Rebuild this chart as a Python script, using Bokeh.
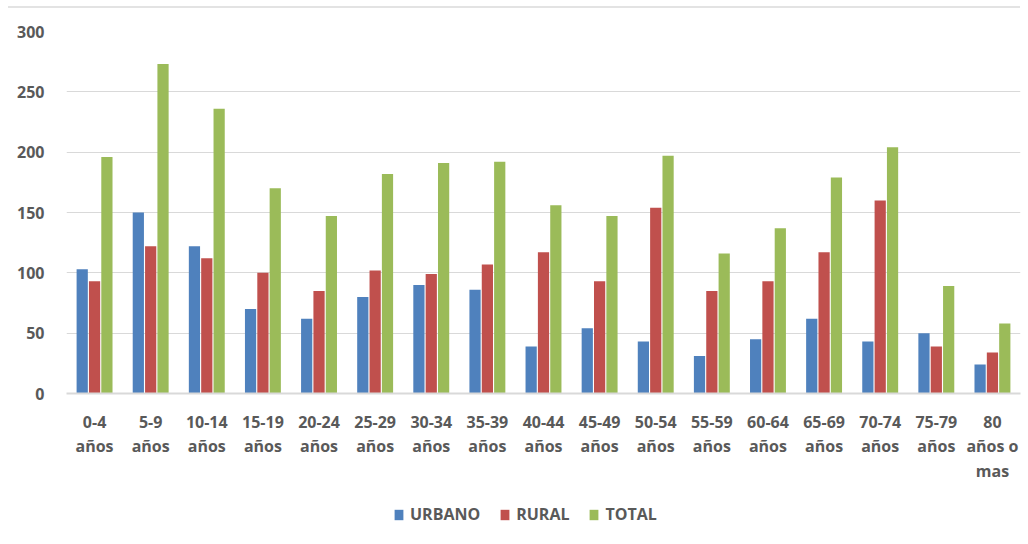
from bokeh.plotting import figure
from bokeh.models import (FactorRange, Range1d, Legend, LegendItem, Div,
                          ColumnDataSource, SingleIntervalTicker)
from bokeh.layouts import column
from bokeh.transform import dodge
from bokeh.embed import file_html
from bokeh.resources import INLINE

# ---- data ----
groups = ["0-4\naños", "5-9\naños", "10-14\naños", "15-19\naños", "20-24\naños",
          "25-29\naños", "30-34\naños", "35-39\naños", "40-44\naños", "45-49\naños",
          "50-54\naños", "55-59\naños", "60-64\naños", "65-69\naños", "70-74\naños",
          "75-79\naños", "80\naños o\nmas"]
urbano = [103, 150, 122, 70, 62, 80, 90, 86, 39, 54, 43, 31, 45, 62, 43, 50, 24]
rural = [93, 122, 112, 100, 85, 102, 99, 107, 117, 93, 154, 85, 93, 117, 160, 39, 34]
total = [196, 273, 236, 170, 147, 182, 191, 192, 156, 147, 197, 116, 137, 179, 204, 89, 58]
series_names = ["URBANO", "RURAL", "TOTAL"]
colors = ["#4F81BD", "#C0504D", "#9BBB59"]

src = ColumnDataSource(dict(g=groups, u=urbano, r=rural, t=total))

FONT = "Open Sans"
FSIZE = "16px"
TXT = "#595959"

p = figure(x_range=FactorRange(*groups, range_padding=0), y_range=Range1d(0, 300),
           width=1028, height=482, output_backend="svg", toolbar_location=None,
           min_border_left=66, min_border_right=8, min_border_top=23, min_border_bottom=97)
p.outline_line_color = None

r1 = p.vbar(x=dodge("g", -0.22, range=p.x_range), top="u", width=0.2, source=src,
            fill_color=colors[0], line_color=None)
r2 = p.vbar(x=dodge("g", 0.0, range=p.x_range), top="r", width=0.2, source=src,
            fill_color=colors[1], line_color=None)
r3 = p.vbar(x=dodge("g", 0.22, range=p.x_range), top="t", width=0.2, source=src,
            fill_color=colors[2], line_color=None)

# y axis
p.yaxis.ticker = SingleIntervalTicker(interval=50)
p.yaxis.axis_line_color = None
p.yaxis.major_tick_line_color = None
p.yaxis.minor_tick_line_color = None
p.yaxis.major_label_standoff = 16
p.yaxis.major_label_text_font = FONT
p.yaxis.major_label_text_font_size = FSIZE
p.yaxis.major_label_text_font_style = "bold"
p.yaxis.major_label_text_color = TXT
p.ygrid.grid_line_color = "#d9d9d9"
p.ygrid.grid_line_width = 1
p.xgrid.grid_line_color = None

# x axis
xa = p.xaxis[0]
xa.axis_line_color = "#d9d9d9"
xa.axis_line_width = 2
xa.major_tick_line_color = None
xa.minor_tick_line_color = None
xa.major_label_standoff = 11
xa.major_label_text_font = FONT
xa.major_label_text_font_size = FSIZE
xa.major_label_text_font_style = "bold"
xa.major_label_text_color = TXT
xa.major_label_text_line_height = 1.12

# legend strip (separate small plot; zero-height swatch renderers carry the series colours)
p2 = figure(width=1028, height=54, x_range=Range1d(0, 1), y_range=Range1d(0, 1),
            output_backend="svg", toolbar_location=None, min_border=0,
            x_axis_location=None, y_axis_location=None)
p2.outline_line_color = None
p2.grid.grid_line_color = None
swatches = [p2.vbar(x=[0.5], top=[0], bottom=[0], width=0.01, fill_color=c, line_color=None)
            for c in colors]
legend = Legend(items=[LegendItem(label=n, renderers=[r]) for n, r in zip(series_names, swatches)],
                orientation="horizontal", location=(327, 19),
                label_text_font=FONT, label_text_font_size=FSIZE, label_text_font_style="bold",
                label_text_color=TXT, glyph_width=11, glyph_height=13, label_standoff=6,
                spacing=19, border_line_color=None, background_fill_alpha=0, margin=0, padding=0)
p2.add_layout(legend, "center")

top_line = Div(text="", width=1012, height=2, margin=(6, 0, 0, 8),
               styles={"background-color": "#e3e3e3"})

layout = column(top_line, p, p2, spacing=0)
open("out.html", "w").write(file_html(layout, INLINE))
